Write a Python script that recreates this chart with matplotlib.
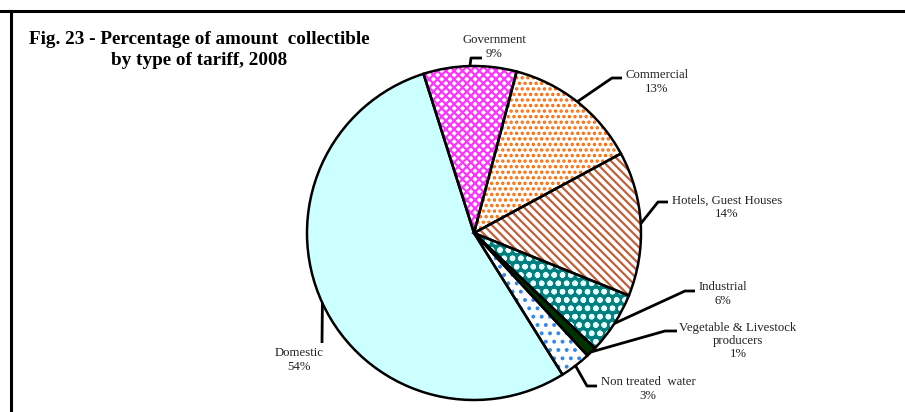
import numpy as np
import matplotlib
matplotlib.use('Agg')
import matplotlib.pyplot as plt
from matplotlib.lines import Line2D

# 数据
labels = ['Government', 'Commercial', 'Hotels, Guest Houses', 'Industrial',
          'Vegetable & Livestock\nproducers', 'Non treated  water', 'Domestic']
values = [9, 13, 14, 6, 1, 3, 54]
face_colors = ['white', 'white', 'white', '#008080', '#003300', 'white', '#CCFFFF']
hatch_colors = ['#FF33FF', '#FF6600', '#C0603A', '#E8FFFF', '#003300', '#3388EE', '#CCFFFF']
hatches = ['xxxx', '...', '\\\\\\\\', 'oo', None, '..', None]

plt.rcParams['font.family'] = ['Liberation Serif', 'DejaVu Serif']
plt.rcParams['hatch.linewidth'] = 1.6

W, H = 905, 412
fig = plt.figure(figsize=(W / 100, H / 100), dpi=100)
ax = fig.add_axes([0, 0, 1, 1])

cx, cy, r = 474, H - 233, 167
start = 107.6

# 填充 + 花纹
wedges, _ = ax.pie(values, colors=face_colors, startangle=start, counterclock=False,
                   center=(cx, cy), radius=r, frame=True,
                   wedgeprops=dict(linewidth=0))
for w, h, hc in zip(wedges, hatches, hatch_colors):
    w.set_edgecolor(hc)
    w.set_linewidth(0)
    if h:
        w.set_hatch(h)

# 黑色边框
ax.pie(values, colors=['none'] * len(values), startangle=start, counterclock=False,
       center=(cx, cy), radius=r, frame=True,
       wedgeprops=dict(linewidth=1.8, edgecolor='black', fill=False))

# 引导线终点和标签位置 (图像像素坐标)
elbows = [(471, 58), (612, 78), (658, 202), (685, 291), (665, 331), (587, 386), (322, 343)]
ends = [(482, 58), (622, 78), (668, 202), (695, 291), (677, 331), (597, 386), (322, 343)]
text_pos = [(494, 47), (657, 82), (727, 207), (723, 294), (738, 341), (648, 389), (299, 360)]

for w, lab, v, e1, e2, tp in zip(wedges, labels, values, elbows, ends, text_pos):
    ang = np.deg2rad((w.theta1 + w.theta2) / 2)
    x0 = cx + r * np.cos(ang)
    y0 = cy + r * np.sin(ang)
    ax.plot([x0, e1[0], e2[0]], [y0, H - e1[1], H - e2[1]], color='black', lw=2,
            solid_capstyle='butt', zorder=5)
    ax.text(tp[0], H - tp[1], f'{lab}\n{v}%', ha='center', va='center',
            fontsize=9.2, linespacing=1.15, color='#222222')

ax.set_xlim(0, W)
ax.set_ylim(0, H)
ax.set_aspect('auto')
ax.axis('off')

# 标题
fig.text(199 / W, 1 - 50 / H, 'Fig. 23 - Percentage of amount  collectible\nby type of tariff, 2008',
         ha='center', va='center', fontsize=13.8, fontweight='bold', linespacing=1.28)

# 边框线
fig.add_artist(Line2D([0, 1], [1 - 11 / H, 1 - 11 / H], color='black', lw=2.2,
                      transform=fig.transFigure))
fig.add_artist(Line2D([11 / W, 11 / W], [0, 1 - 11 / H], color='black', lw=2.2,
                      transform=fig.transFigure))

plt.savefig('out.png', dpi=100)
plt.close()
